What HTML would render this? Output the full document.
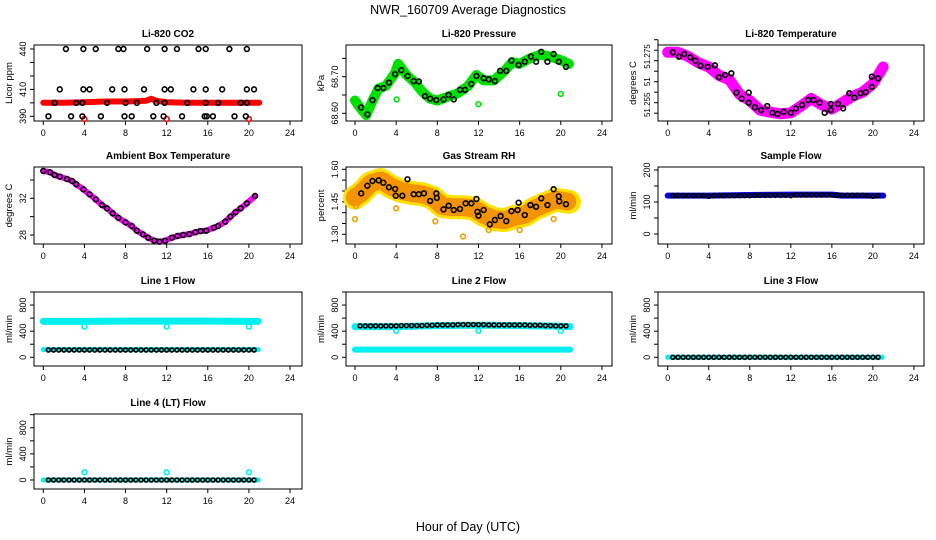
<!DOCTYPE html>
<html><head><meta charset="utf-8"><style>
html,body{margin:0;padding:0;background:#fff;}
svg{display:block;font-family:"Liberation Sans",sans-serif;}
</style></head><body>
<svg id="chart" width="936" height="540" viewBox="0 0 936 540" xmlns="http://www.w3.org/2000/svg">
<text x="468" y="14" text-anchor="middle" font-size="12.5">NWR_160709  Average Diagnostics</text>
<text x="468" y="531" text-anchor="middle" font-size="12.5">Hour of Day (UTC)</text>
</svg>
<script>
// ---------- data ----------
const halfHours = [0.5,1,1.5,2,2.5,3,3.5,4,4.5,5,5.5,6,6.5,7,7.5,8,8.5,9,9.5,10,10.5,11,11.5,12,12.5,13,13.5,14,14.5,15,15.5,16,16.5,17,17.5,18,18.5,19,19.5,20,20.5];
const bandHours = [0,2,4,6,8,10,10.5,11,12,14,16,18,20,21];

// CO2
const co2BandVals = [400,400,400.5,401,401,401.5,403,401.5,400.5,400,400,400,400,400];
const co2H440 = [2.2,3.9,5.1,7.3,7.8,10.1,11.8,13,15.1,15.8,18.1,19.8];
const co2V440 = [440,440,440,440,440,440,440,440,440,440,440,440];
const co2H410 = [1.6,3.9,4.5,6.7,7.9,9.8,11.8,12.4,14.6,15.8,17.4,19.8,20.5];
const co2V410 = [410,410,410,410,410,410,410,410,410,410,410,410,410];
const co2H400 = [1.1,3.2,3.8,6.2,8,9.1,11,11.8,14,15.8,17,19.2,19.8];
const co2V400 = [400,400,400,400,400,400,400,400,400,400,400,400,400];
const co2H390 = [0.5,2.7,3.8,5.6,7.9,8.6,10.7,11.7,13.5,15.7,15.9,16.5,18.6,19.7];
const co2V390 = [390,390,390,390,390,390,390,390,390,390,390,390,390,390];
const co2RedH = [4,12,20];
const co2RedV = [388,388,388];

// Pressure
const presHours = [0.58,1.2,1.7,2.2,2.75,3.3,3.9,4.5,5.1,5.7,6.2,6.8,7.3,7.9,8.6,9.1,9.6,10.2,10.7,11.3,11.8,12.5,13,13.6,14.1,14.7,15.2,15.9,16.5,17.1,17.6,18.1,18.7,19.3,19.8,20.5];
const presVals = [68.616,68.597,68.636,68.669,68.669,68.684,68.707,68.718,68.702,68.688,68.687,68.647,68.640,68.636,68.638,68.650,68.638,68.664,68.664,68.680,68.702,68.696,68.693,68.688,68.716,68.716,68.744,68.732,68.741,68.755,68.741,68.768,68.741,68.762,68.741,68.727];
const presBandH = [0,0.5,1.1,1.7,2.3,3,3.9,4.2,5,5.8,6.5,7.3,8,9,10,11,11.8,12.5,13.5,14.5,15.3,16,17,18,19,20,20.8];
const presBandV = [68.635,68.615,68.595,68.635,68.668,68.675,68.71,68.735,68.705,68.685,68.66,68.64,68.635,68.645,68.655,68.675,68.705,68.69,68.69,68.715,68.74,68.735,68.75,68.76,68.755,68.745,68.735];
const presOutH = [4.05,12,20];
const presOutV = [68.638,68.625,68.653];

// Li-820 temperature
const tempHours = [0.5,1.1,1.6,2.2,2.7,3.2,3.9,4.6,5,5.6,6.2,6.7,7.2,7.9,7.9,8.5,9.1,9.7,10.2,10.7,11.3,12,12.5,13.1,13.7,14.2,14.8,15.3,15.9,15.9,16.6,17.1,17.7,18.2,18.8,19.3,19.9,19.9,20.5];
const tempVals = [51.279,51.2769,51.2782,51.2766,51.275,51.2726,51.2721,51.2728,51.2671,51.2682,51.269,51.2598,51.2569,51.2598,51.255,51.2528,51.2515,51.2534,51.2502,51.2496,51.2507,51.2502,51.2523,51.2539,51.2563,51.2563,51.255,51.2502,51.2544,51.2515,51.2544,51.2523,51.2595,51.2574,51.2595,51.26,51.2674,51.2625,51.2666];
const tempBandH = [0,1,2,3,4,5,6,7,8,9,10,11,12,13,14,15,16,17,18,19,20,21];
const tempBandV = [51.279,51.279,51.277,51.274,51.272,51.268,51.266,51.259,51.256,51.2515,51.2505,51.2497,51.2502,51.2535,51.257,51.254,51.252,51.255,51.258,51.26,51.264,51.272];

// Ambient box temperature
const ambHours = [0,0.65,1.1,1.6,2.3,2.8,3.2,3.9,4.5,5.1,5.7,6.2,6.75,7.3,8,8.6,9.1,9.7,10.2,10.8,11.3,11.85,12.5,13.05,13.6,14.2,14.8,15.3,15.85,16.6,17,17.7,18.2,18.7,19.2,19.8,20.6];
const ambVals = [34.98,34.84,34.54,34.36,34.1,33.89,33.53,32.98,32.44,31.89,31.27,30.91,30.36,29.88,29.38,28.98,28.47,28.07,27.7,27.38,27.27,27.38,27.7,27.89,28,28.1,28.3,28.43,28.47,28.8,28.98,29.45,30,30.48,30.91,31.45,32.25];

// Gas stream RH
const rhHours = [0.6,1.2,1.7,2.3,2.75,3.3,3.9,3.95,4.6,5.1,5.7,6.2,6.7,7.3,7.9,7.95,8.6,9.1,9.6,10.2,10.75,11.3,11.8,11.9,12,12.5,13.1,13.6,14.15,14.7,15.2,15.8,15.9,16.5,17.05,17.6,18.1,18.7,19.3,19.8,19.85,20.5];
const rhVals = [1.489,1.524,1.546,1.549,1.538,1.517,1.509,1.478,1.478,1.554,1.485,1.485,1.489,1.454,1.489,1.468,1.415,1.432,1.412,1.417,1.443,1.443,1.463,1.404,1.386,1.412,1.346,1.366,1.384,1.361,1.407,1.412,1.446,1.389,1.435,1.427,1.466,1.435,1.508,1.475,1.452,1.439];
const rhBandH = [0,0.6,1.5,2.5,3.5,4.5,5.5,6.5,7.5,8.5,9.5,10.5,11.5,12.5,13.5,14.5,15.5,16.5,17.5,18.5,19.5,20.8];
const rhBandV = [1.47,1.49,1.535,1.55,1.52,1.5,1.49,1.485,1.47,1.43,1.425,1.425,1.42,1.39,1.37,1.365,1.38,1.39,1.42,1.44,1.46,1.45];
const rhOutH = [0,0.1,4,7.8,10.5,13,16,19.3];
const rhOutV = [1.37,1.43,1.42,1.36,1.29,1.32,1.32,1.37];

// Flows
const sampleVals = [120,120,120,120,120,120,120,118,120,120,120,120,120,120,120,120,121,121,121,121,121,121,121,120,122,122,122,122,122,122,122,122,121,121,121,121,121,121,120,118,120];
const sampleBandH = [0,4,8,12,16,17,21];
const sampleBandV = [120,120,122,123,123,120,120];
const line1Vals = [112,112,112,112,112,112,112,112,112,112,112,112,112,112,112,112,112,112,112,112,112,112,112,112,112,112,112,112,112,112,112,112,112,112,112,112,112,112,112,112,112];
const line1HighH = [0,4,8,12,16,20,20.9];
const line1HighV = [550,550,555,555,555,550,550];
const line1LowH = [0,20.9];
const line1LowV = [118,118];
const line1DipH = [4,12,20];
const line1DipV = [470,470,470];
const line2Vals = [480,480,480,480,480,480,480,480,485,485,485,485,485,490,490,495,495,495,495,500,500,500,500,500,500,495,495,495,495,495,495,495,495,490,490,490,485,485,480,480,480];
const line2HighH = [0,4,8,12,16,20,20.9];
const line2HighV = [470,470,485,490,485,475,470];
const line2LowH = [0,20.9];
const line2LowV = [118,118];
const line2DipH = [4,12,20];
const line2DipV = [405,405,405];
const line3Vals = [0,0,0,0,0,0,0,0,0,0,0,0,0,0,0,0,0,0,0,0,0,0,0,0,0,0,0,0,0,0,0,0,0,0,0,0,0,0,0,0,0];
const line4Vals = [0,0,0,0,0,0,0,0,0,0,0,0,0,0,0,0,0,0,0,0,0,0,0,0,0,0,0,0,0,0,0,0,0,0,0,0,0,0,0,0,0];
const zeroBandH = [0,20.9];
const zeroBandV = [0,0];
const line4OutH = [4,12,20];
const line4OutV = [118,118,118];

const xTicks = [0,4,8,12,16,20,24];

// ---------- layout ----------
const NS = "http://www.w3.org/2000/svg";
const svg = document.getElementById('chart');
const cols = [{l:34,r:302,x0:43.3,k:10.28},{l:346,r:612,x0:355,k:10.29},{l:658,r:924,x0:667.7,k:10.26}];
const rows = [{t:45,b:121},{t:167,b:244},{t:292,b:366},{t:414,b:489}];

function el(tag, attrs, parent){
  const e = document.createElementNS(NS, tag);
  for (const a in attrs) e.setAttribute(a, attrs[a]);
  (parent||svg).appendChild(e);
  return e;
}

function makePanel(cfg){
  const c = cols[cfg.col], r = rows[cfg.row];
  const g = el('g', {});
  
  
  const xs = h => c.x0 + h * c.k;
  const ys = v => cfg.y1 + (v - cfg.v1) * (cfg.y2 - cfg.y1) / (cfg.v2 - cfg.v1);
  const box = el('rect', {x:c.l, y:r.t, width:c.r-c.l, height:r.b-r.t, fill:'none', stroke:'#000', 'stroke-width':1}, g);
  
  
  const title = el('text', {x:(c.l+c.r)/2, y:r.t-8, 'text-anchor':'middle', 'font-size':'10', 'font-weight':'bold'}, g);
  title.textContent = cfg.title;
  
  
  const xa = el('g', {}, g);
  
  
  el('line', {x1:xs(0), x2:xs(24), y1:r.b, y2:r.b, stroke:'#000'}, xa);
  xTicks.forEach(t => {
    el('line', {x1:xs(t), x2:xs(t), y1:r.b, y2:r.b+4, stroke:'#000'}, xa);
    const tx = el('text', {x:xs(t), y:r.b+15, 'text-anchor':'middle', 'font-size':'9'}, xa);
    tx.textContent = t;
    
    
  });
  const ya = el('g', {}, g);
  
  
  el('line', {x1:c.l, x2:c.l, y1:ys(cfg.ticks[0]), y2:ys(cfg.ticks[cfg.ticks.length-1]), stroke:'#000'}, ya);
  cfg.ticks.forEach(t => el('line', {x1:c.l-4, x2:c.l, y1:ys(t), y2:ys(t), stroke:'#000'}, ya));
  const fs = cfg.labelSize || 9;
  cfg.labels.forEach((lb, i) => {
    const yy = ys(cfg.labelVals[i]), xx = c.l - 8;
    const tx = el('text', {x:xx, y:yy, transform:`rotate(-90 ${xx} ${yy})`, 'text-anchor':'middle', 'font-size':fs}, ya);
    tx.textContent = lb;
    
    
  });
  const yl = el('text', {x:c.l-22, y:(r.t+r.b)/2, transform:`rotate(-90 ${c.l-22} ${(r.t+r.b)/2})`, 'text-anchor':'middle', 'font-size':'9.5'}, g);
  yl.textContent = cfg.ylabel;
  
  
  return {g, xs, ys};
}

function band(p, H, V, color, w, dash, op){
  const pts = H.map((h,i) => p.xs(h).toFixed(1)+','+p.ys(V[i]).toFixed(1)).join(' ');
  const a = {points:pts, fill:'none', stroke:color, 'stroke-width':w, 'stroke-linecap':'round', 'stroke-linejoin':'round'};
  if (dash) a['stroke-dasharray'] = dash;
  if (op) a['stroke-opacity'] = op;
  const pl = el('polyline', a, p.g);
  
  
}
function circles(p, H, V, color, rad, name){
  H.forEach((h,i) => {
    const ci = el('circle', {cx:p.xs(h), cy:p.ys(V[i]), r:rad||2.4, fill:'none', stroke:color, 'stroke-width':1.6}, p.g);
    
    
  });
}

let p = makePanel({name:'panel-co2', col:0,row:0,title:'Li-820 CO2',ylabel:'Licor ppm',v1:440,y1:49,v2:390,y2:116.3,
  ticks:[390,400,410,420,430,440], labels:['390','410','440'], labelVals:[390,410,440]});
band(p, bandHours, co2BandVals, '#f00', 6);
circles(p, co2RedH, co2RedV, '#f00', 2.4, 'outlier-point');
circles(p, co2H440, co2V440, '#000');
circles(p, co2H410, co2V410, '#000');
circles(p, co2H400, co2V400, '#000');
circles(p, co2H390, co2V390, '#000');

p = makePanel({name:'panel-pressure', col:1,row:0,title:'Li-820 Pressure',ylabel:'kPa',v1:68.70,y1:76.7,v2:68.60,y2:113.3,
  ticks:[68.60,68.65,68.70,68.75], labels:['68.60','68.70'], labelVals:[68.60,68.70]});
band(p, presBandH, presBandV, '#00e000', 10);
circles(p, presOutH, presOutV, '#00e000', 2.4, 'outlier-point');
circles(p, presHours, presVals, '#000');

p = makePanel({name:'panel-li820-temperature', col:2,row:0,title:'Li-820 Temperature',ylabel:'degrees C',v1:51.275,y1:60.7,v2:51.255,y2:102.7,
  ticks:[51.25,51.255,51.26,51.265,51.27,51.275,51.28,51.285], labels:['51.255','51','51.275'], labelVals:[51.254,51.265,51.277], labelSize:8});
band(p, tempBandH, tempBandV, '#f0f', 11);
circles(p, tempHours, tempVals, '#000');

p = makePanel({name:'panel-ambient-temperature', col:0,row:1,title:'Ambient Box Temperature',ylabel:'degrees C',v1:32,y1:198.3,v2:28,y2:235,
  ticks:[28,30,32,34], labels:['28','32'], labelVals:[28,32]});
band(p, ambHours, ambVals, '#f0f', 6);
circles(p, ambHours, ambVals, '#000');

p = makePanel({name:'panel-gas-stream-rh', col:1,row:1,title:'Gas Stream RH',ylabel:'percent',v1:1.60,y1:169.3,v2:1.30,y2:234.3,
  ticks:[1.30,1.35,1.40,1.45,1.50,1.55,1.60], labels:['1.30','1.45','1.60'], labelVals:[1.30,1.45,1.60]});
band(p, rhBandH, rhBandV, '#ffe000', 24);
band(p, rhBandH, rhBandV, '#f08000', 18, '1.5,4', 0.8);
circles(p, rhOutH, rhOutV, '#f0a000', 2.4, 'outlier-point');
circles(p, rhHours, rhVals, '#000');

p = makePanel({name:'panel-sample-flow', col:2,row:1,title:'Sample Flow',ylabel:'ml/min',v1:0,y1:234,v2:200,y2:170,
  ticks:[0,50,100,150,200], labels:['0','100','200'], labelVals:[0,100,200]});
band(p, sampleBandH, sampleBandV, '#0000f0', 6);
circles(p, halfHours, sampleVals, '#000', 2);

const flowTicks = [0,200,400,600,800,1000];
p = makePanel({name:'panel-line1-flow', col:0,row:2,title:'Line 1 Flow',ylabel:'ml/min',v1:0,y1:357.3,v2:1000,y2:292,
  ticks:flowTicks, labels:['0','400','800'], labelVals:[0,400,800]});
band(p, line1HighH, line1HighV, '#00f0f0', 7);
band(p, line1LowH, line1LowV, '#00f0f0', 5);
circles(p, line1DipH, line1DipV, '#00f0f0', 2.4, 'outlier-point');
circles(p, halfHours, line1Vals, '#000', 2);

p = makePanel({name:'panel-line2-flow', col:1,row:2,title:'Line 2 Flow',ylabel:'ml/min',v1:0,y1:357.3,v2:1000,y2:292,
  ticks:flowTicks, labels:['0','400','800'], labelVals:[0,400,800]});
band(p, line2HighH, line2HighV, '#00f0f0', 7);
band(p, line2LowH, line2LowV, '#00f0f0', 6);
circles(p, line2DipH, line2DipV, '#00f0f0', 2.4, 'outlier-point');
circles(p, halfHours, line2Vals, '#000', 2);

p = makePanel({name:'panel-line3-flow', col:2,row:2,title:'Line 3 Flow',ylabel:'ml/min',v1:0,y1:357.3,v2:1000,y2:292,
  ticks:flowTicks, labels:['0','400','800'], labelVals:[0,400,800]});
band(p, zeroBandH, zeroBandV, '#00f0f0', 5);
circles(p, halfHours, line3Vals, '#000', 2);

p = makePanel({name:'panel-line4-flow', col:0,row:3,title:'Line 4 (LT) Flow',ylabel:'ml/min',v1:0,y1:480,v2:1000,y2:414.7,
  ticks:flowTicks, labels:['0','400','800'], labelVals:[0,400,800]});
band(p, zeroBandH, zeroBandV, '#00f0f0', 5);
circles(p, line4OutH, line4OutV, '#00f0f0', 2.4, 'outlier-point');
circles(p, halfHours, line4Vals, '#000', 2);
</script>
</body></html>
